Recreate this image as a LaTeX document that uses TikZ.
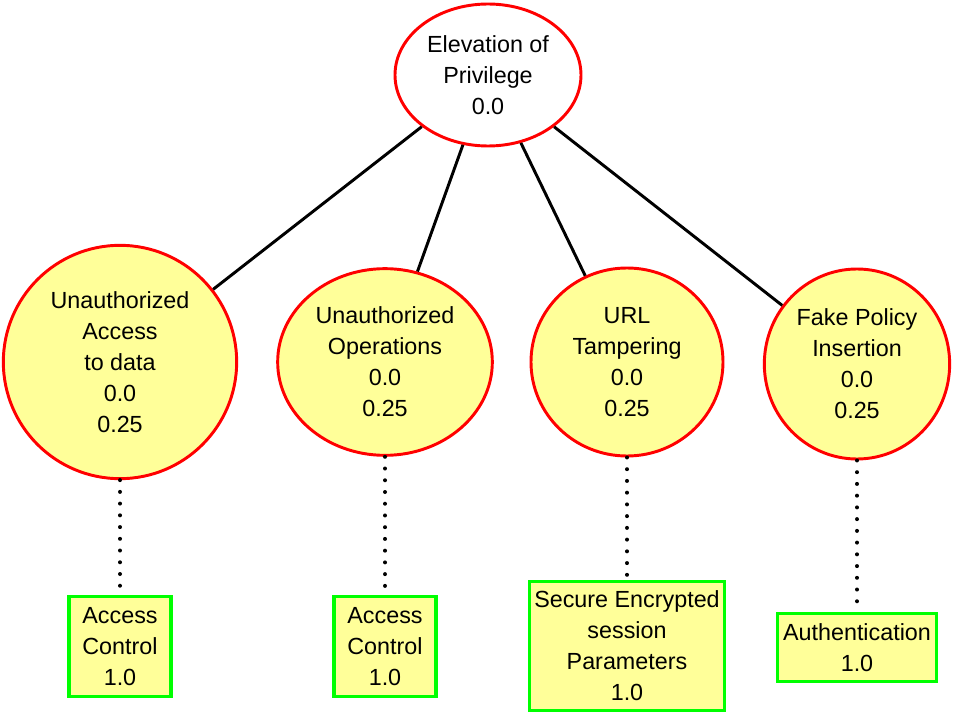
\documentclass[tikz,border=0pt]{standalone}
\usepackage{fontspec}
\setmainfont{Liberation Sans}
\usetikzlibrary{shapes.geometric}
\definecolor{nodefill}{RGB}{255,255,153}
\definecolor{boxedge}{RGB}{0,255,0}
\begin{document}
\begin{tikzpicture}[x=0.75pt,y=-0.75pt,
  threat/.style={ellipse, draw=red, line width=2.2pt, fill=nodefill,
    inner sep=0pt, align=center, font=\fontsize{17.5}{23.25}\selectfont},
  control/.style={rectangle, draw=boxedge, line width=2.4pt, fill=nodefill,
    inner sep=0pt, align=center, font=\fontsize{17.5}{23.25}\selectfont},
  link/.style={draw=black, line width=2.2pt},
  dotlink/.style={draw=black, line width=3pt, line cap=round,
    dash pattern=on 0pt off 8.8pt}]
\useasboundingbox (0,0) rectangle (954,713);

% root goal
\node[threat, fill=white, minimum width=139.5pt, minimum height=106.5pt]
  (root) at (488,75) {Elevation of\\Privilege\\0.0};

% sub-threats
\node[threat, minimum width=175pt, minimum height=175pt]
  (t1) at (120,362) {Unauthorized\\Access\\to data\\0.0\\0.25};
\node[threat, minimum width=161pt, minimum height=140pt]
  (t2) at (385,362) {Unauthorized\\Operations\\0.0\\0.25};
\node[threat, minimum width=144pt, minimum height=141pt]
  (t3) at (627,362) {URL\\Tampering\\0.0\\0.25};
\node[threat, minimum width=139pt, minimum height=142.5pt]
  (t4) at (857,364) {Fake Policy\\Insertion\\0.0\\0.25};

% countermeasures
\node[control, minimum width=76.5pt, minimum height=75pt]
  (c1) at (120,646.5) {Access\\Control\\1.0};
\node[control, minimum width=76.5pt, minimum height=75pt]
  (c2) at (385,646.5) {Access\\Control\\1.0};
\node[control, minimum width=146pt, minimum height=97pt]
  (c3) at (627,646) {Secure Encrypted\\session\\Parameters\\1.0};
\node[control, minimum width=119pt, minimum height=51pt]
  (c4) at (857,647.5) {Authentication\\1.0};

% decomposition edges
\draw[link] (root) -- (t1);
\draw[link] (root) -- (t2);
\draw[link] (root) -- (t3);
\draw[link] (root) -- (t4);

% mitigation edges
\draw[dotlink] (t1) -- (c1);
\draw[dotlink] (t2) -- (c2);
\draw[dotlink] (t3) -- (c3);
\draw[dotlink] (t4) -- (c4);
\end{tikzpicture}
\end{document}
